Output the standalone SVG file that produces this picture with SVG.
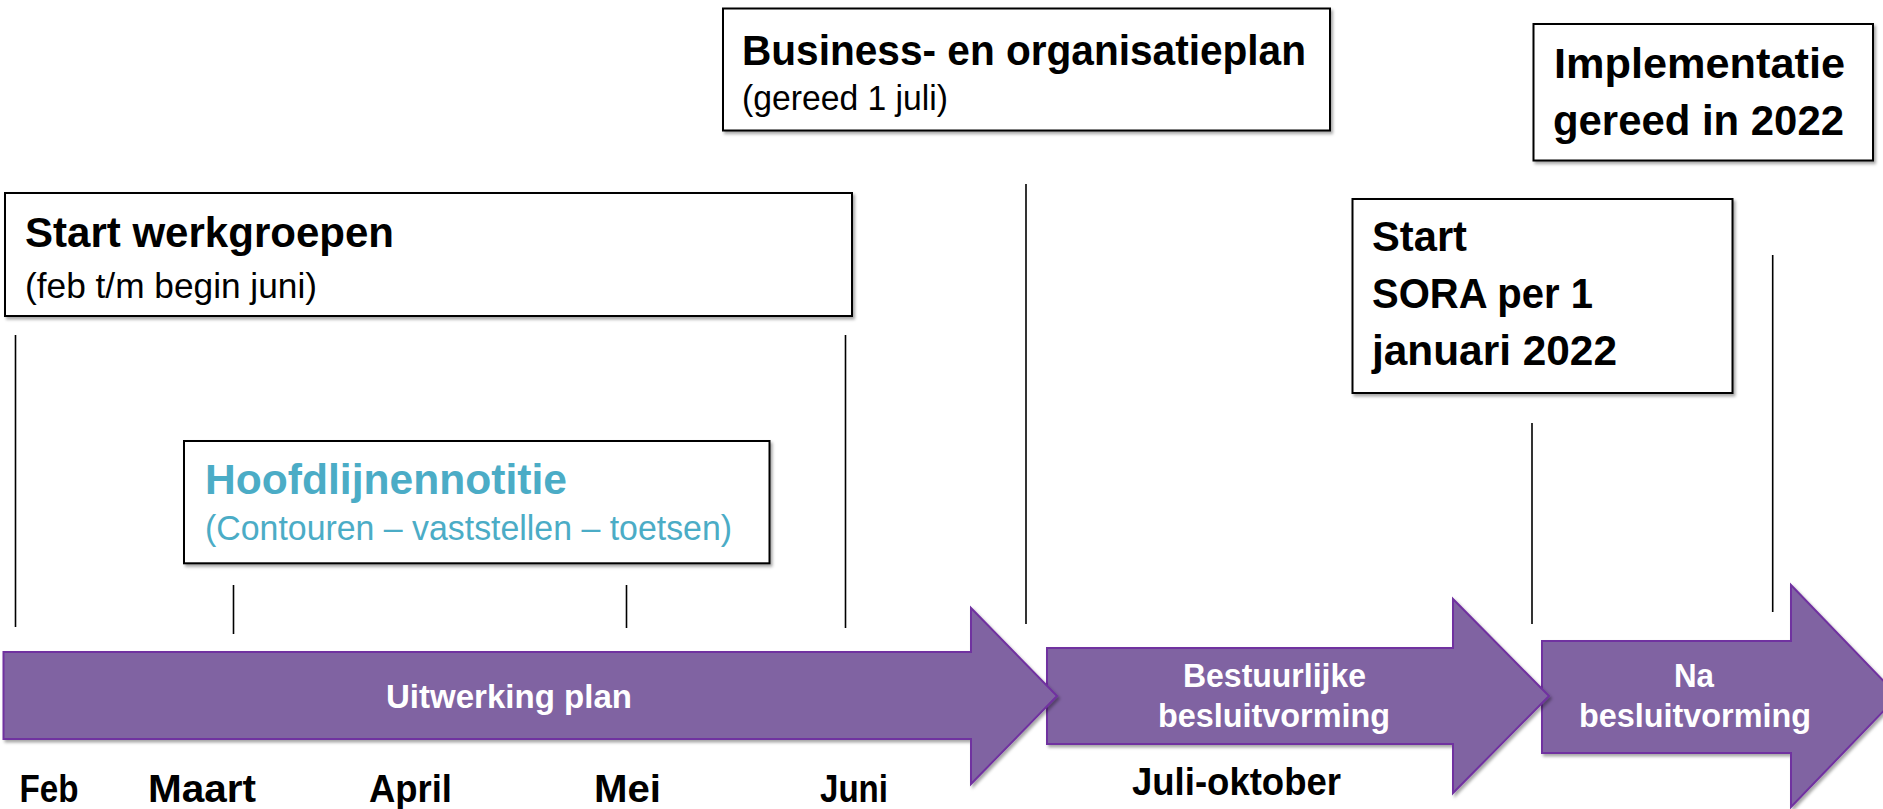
<svg xmlns="http://www.w3.org/2000/svg" width="1883" height="809" viewBox="0 0 1883 809">
<defs>
<filter id="sh" x="-5%" y="-5%" width="110%" height="115%">
<feDropShadow dx="2" dy="2.5" stdDeviation="1.5" flood-color="#000" flood-opacity="0.35"/>
</filter>
<style>
.box{fill:#fff;stroke:#000;stroke-width:2;filter:url(#sh)}
.arr{fill:#8064A2;stroke:#7030A0;stroke-width:2;filter:url(#sh)}
.tick{stroke:#000;stroke-width:1.6;fill:none}
text{font-family:"Liberation Sans",Arial,sans-serif}
.t{font-weight:bold;font-size:43px;fill:#000}
.s{font-size:35px;fill:#000}
.ht{font-weight:bold;font-size:43px;fill:#4BACC6}
.hs{font-size:35px;fill:#4BACC6}
.a{font-weight:bold;font-size:34px;fill:#fff}
.m{font-weight:bold;font-size:38px;fill:#000}
</style>
</defs>
<rect width="1883" height="809" fill="#fff"/>
<g id="connectors">
<line class="tick" x1="15.5" y1="335" x2="15.5" y2="627"/>
<line class="tick" x1="233.5" y1="585" x2="233.5" y2="634"/>
<line class="tick" x1="626.5" y1="585" x2="626.5" y2="628"/>
<line class="tick" x1="845.5" y1="335" x2="845.5" y2="628"/>
<line class="tick" x1="1026" y1="184" x2="1026" y2="624"/>
<line class="tick" x1="1532" y1="423" x2="1532" y2="624"/>
<line class="tick" x1="1772.7" y1="255" x2="1772.7" y2="612"/>
</g>
<g id="arrow-na-besluitvorming">
<polygon class="arr" points="1542,641 1791,641 1791,585 1898,696 1791,807 1791,753 1542,753"/>
<text class="a" x="1674" y="687" textLength="40" lengthAdjust="spacingAndGlyphs">Na</text>
<text class="a" x="1579" y="727" textLength="232" lengthAdjust="spacingAndGlyphs">besluitvorming</text>
</g>
<g id="arrow-bestuurlijke">
<polygon class="arr" points="1047,648 1453,648 1453,599 1549,696 1453,793 1453,744 1047,744"/>
<text class="a" x="1183" y="687" textLength="183" lengthAdjust="spacingAndGlyphs">Bestuurlijke</text>
<text class="a" x="1158" y="727" textLength="232" lengthAdjust="spacingAndGlyphs">besluitvorming</text>
</g>
<g id="arrow-uitwerking">
<polygon class="arr" points="3.5,652 971,652 971,608 1057,696 971,784 971,739 3.5,739"/>
<text class="a" x="386" y="708" textLength="246" lengthAdjust="spacingAndGlyphs">Uitwerking plan</text>
</g>
<g id="box-start-werkgroepen">
<rect class="box" x="5" y="193" width="847" height="123"/>
<text class="t" x="25" y="247" textLength="369" lengthAdjust="spacingAndGlyphs">Start werkgroepen</text>
<text class="s" x="25" y="298" textLength="292" lengthAdjust="spacingAndGlyphs">(feb t/m begin juni)</text>
</g>
<g id="box-business">
<rect class="box" x="723" y="8.5" width="607" height="122"/>
<text class="t" x="742" y="65" textLength="564" lengthAdjust="spacingAndGlyphs">Business- en organisatieplan</text>
<text class="s" x="742" y="110" textLength="206" lengthAdjust="spacingAndGlyphs">(gereed 1 juli)</text>
</g>
<g id="box-implementatie">
<rect class="box" x="1533.5" y="24" width="339.5" height="136.5"/>
<text class="t" x="1554" y="78" textLength="291" lengthAdjust="spacingAndGlyphs">Implementatie</text>
<text class="t" x="1553" y="135" textLength="291" lengthAdjust="spacingAndGlyphs">gereed in 2022</text>
</g>
<g id="box-start-sora">
<rect class="box" x="1352.5" y="199" width="380" height="194"/>
<text class="t" x="1372" y="251" textLength="95" lengthAdjust="spacingAndGlyphs">Start</text>
<text class="t" x="1372" y="308" textLength="221" lengthAdjust="spacingAndGlyphs">SORA per 1</text>
<text class="t" x="1372" y="365" textLength="245" lengthAdjust="spacingAndGlyphs">januari 2022</text>
</g>
<g id="box-hoofdlijnennotitie">
<rect class="box" x="184" y="441" width="585.5" height="122.3"/>
<text class="ht" x="205" y="494" textLength="362" lengthAdjust="spacingAndGlyphs">Hoofdlijnennotitie</text>
<text class="hs" x="205" y="540" textLength="527" lengthAdjust="spacingAndGlyphs">(Contouren – vaststellen – toetsen)</text>
</g>
<g id="labels">
<text class="m" x="19.5" y="802" textLength="59" lengthAdjust="spacingAndGlyphs">Feb</text>
<text class="m" x="148" y="802" textLength="108" lengthAdjust="spacingAndGlyphs">Maart</text>
<text class="m" x="369" y="802" textLength="83" lengthAdjust="spacingAndGlyphs">April</text>
<text class="m" x="594" y="802" textLength="67" lengthAdjust="spacingAndGlyphs">Mei</text>
<text class="m" x="820" y="802" textLength="68" lengthAdjust="spacingAndGlyphs">Juni</text>
<text class="m" x="1132" y="795" textLength="209" lengthAdjust="spacingAndGlyphs">Juli-oktober</text>
</g>
</svg>
